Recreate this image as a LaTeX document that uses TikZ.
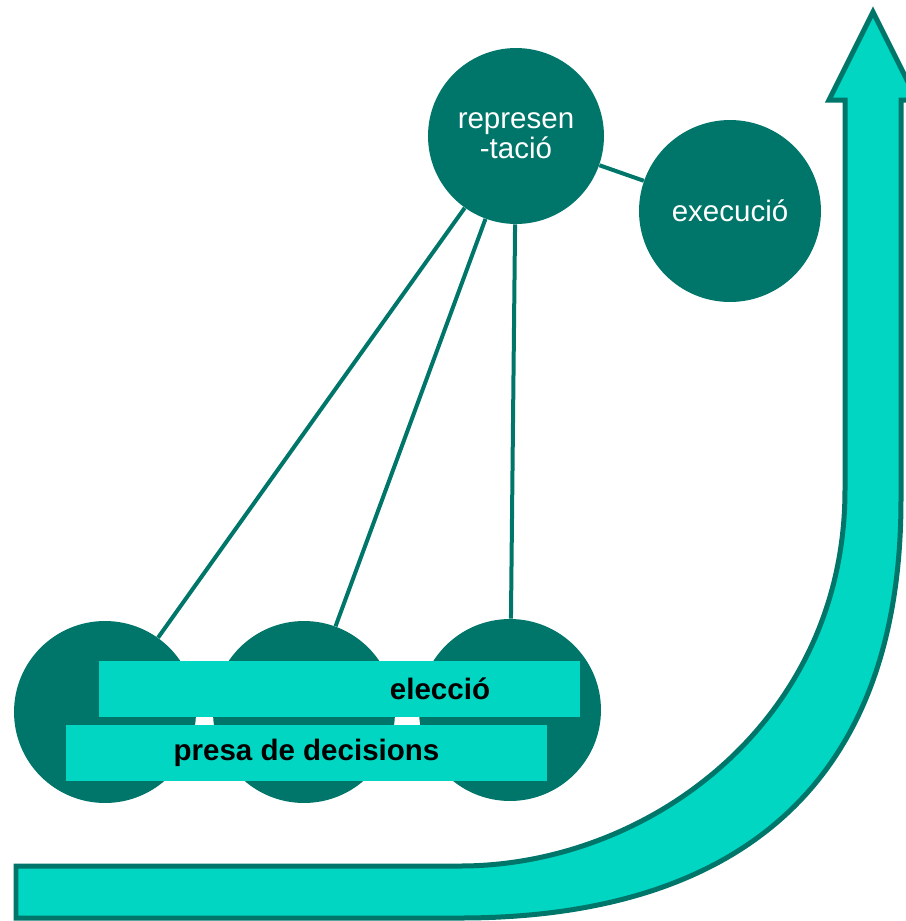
\documentclass[tikz,border=0pt]{standalone}
\usepackage{fontspec}
\setmainfont{Liberation Sans}
\usepackage{tikz}
\definecolor{darkteal}{RGB}{0,118,106}
\definecolor{lightteal}{RGB}{0,214,194}

\begin{document}
\begin{tikzpicture}[x=0.02cm,y=-0.02cm,
	stage/.style={shape=circle,fill=darkteal,text=white,minimum size=3.64cm,inner sep=0pt,align=center,font=\fontsize{16.8}{17}\selectfont},
	bar/.style={shape=rectangle,fill=lightteal,minimum width=9.64cm,minimum height=1.12cm,inner sep=0pt,font=\fontsize{16.8}{17}\selectfont\bfseries},
	link/.style={draw=darkteal,line width=0.08cm},
	bigarrow/.style={draw=darkteal,fill=lightteal,line width=0.1cm}]
	
	\clip (0,0) rectangle (906,921);
	
	\draw[bigarrow] (16,866) -- (460,866) .. controls (650,866) and (845,720) .. (845,490) -- (845,100) -- (829,100) -- (873,12) -- (917,100) -- (901,100) -- (901,500) .. controls (901,800) and (720,918) .. (460,918) -- (16,918) -- cycle;
	
	\node[stage,minimum size=3.52cm] (rep) at (516,136)     {represen\\-tació};
	\node[stage] (exe) at (730,211)     {execució};
	\node[stage] (p1) at (105,712)     {};
	\node[stage] (p2) at (304,712)     {};
	\node[stage] (p3) at (510,710)     {};
	\path[link] (rep) edge (exe);
	\path[link] (rep) edge (p1);
	\path[link] (rep) edge (p2);
	\path[link] (rep) edge (p3);
	
	\node[bar] (elbar) at (339.5,689)     {};
	\node[font=\fontsize{16.8}{17}\selectfont\bfseries] (elec) at (440,689)     {elecció};
	\node[bar] (presa) at (306.5,753)     {presa de decisions};
	\end{tikzpicture}
\end{document}
